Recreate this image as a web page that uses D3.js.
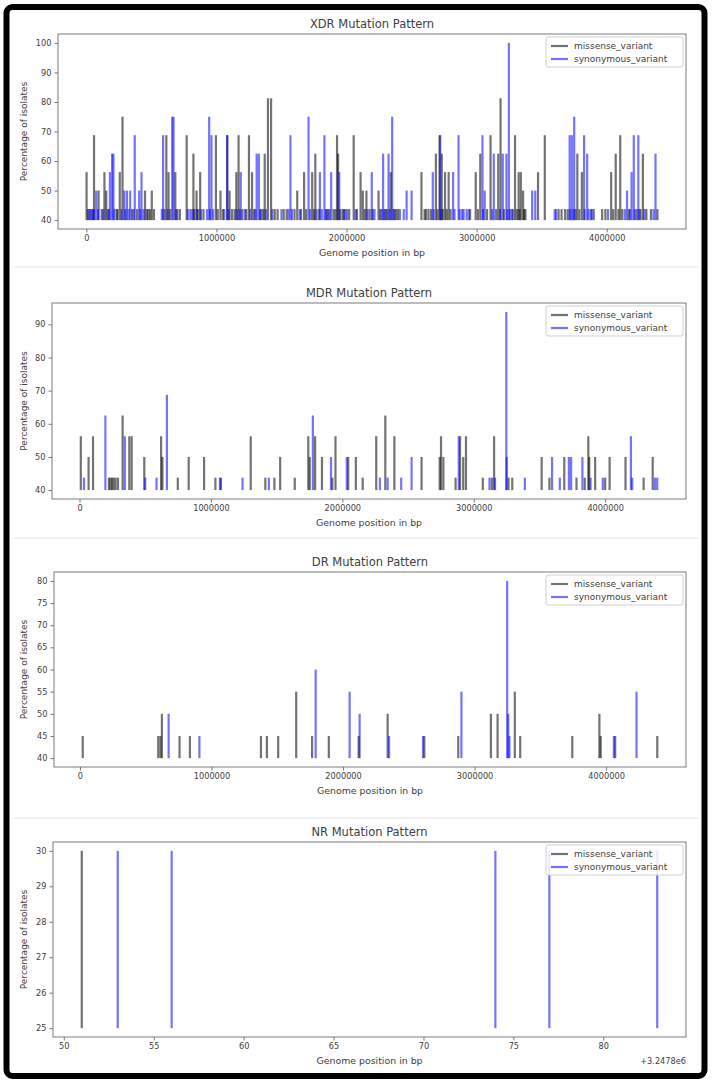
<!DOCTYPE html>
<html><head><meta charset="utf-8">
<script src="https://cdn.jsdelivr.net/npm/d3@7"></script>
<style>
body{margin:0;background:#fff}
svg{display:block}
text{font-family:"DejaVu Sans",sans-serif;fill:#404040}
</style>
</head><body>
<svg id="c" width="712" height="1084"></svg>
<script>
// ---------------- DATA (position in bp, percentage of isolates) ----------------
const xdrMissense = [
 [1500,56.25],[59000,68.75],[94000,50],[139000,56.25],[153000,50],[233000,43.75],[257000,56.25],[278000,75],
 [451000,50],[476000,43.75],[503000,50],[615000,68.75],[632000,56.25],[684000,56.25],[719000,43.75],[771000,68.75],
 [823000,62.5],[847000,50],[875000,56.25],[996000,68.75],[1031000,50],[1083000,68.75],[1101000,50],[1153000,56.25],
 [1170000,68.75],[1250000,68.75],[1274000,56.25],[1344000,43.75],[1371000,62.5],[1396000,81.25],[1420000,81.25],
 [1448000,43.75],[1517000,43.75],[1621000,50],[1674000,56.25],[1736000,56.25],[1760000,62.5],[1847000,43.75],
 [1927000,68.75],[1935000,62.5],[1969000,43.75],[2055000,68.75],[2108000,56.25],[2125000,50],[2153000,50],
 [2177000,43.75],[2246000,50],[2299000,43.75],[2340000,56.25],[2368000,43.75],[2396000,43.75],[2576000,56.25],
 [2611000,43.75],[2687000,62.5],[2715000,68.75],[2732000,62.5],[2757000,56.25],[2785000,56.25],[2993000,56.25],
 [3028000,62.5],[3107000,68.75],[3166000,62.5],[3184000,81.25],[3295000,68.75],[3323000,56.25],[3340000,56.25],
 [3357000,50],[3375000,43.75],[3472000,56.25],[3524000,68.75],[3653000,43.75],[3680000,43.75],[3774000,62.5],
 [3809000,56.25],[3965000,43.75],[4034000,56.25],[4069000,62.5],[4104000,68.75],[4278000,62.5],[4305000,43.75],
 [4390000,43.75],
 [12000,43.75],[48000,43.75],[118000,43.75],[165000,43.75],[240000,43.75],[300000,43.75],[350000,43.75],[390000,43.75],
 [465000,43.75],[490000,43.75],[520000,43.75],[600000,43.75],[645000,43.75],[700000,43.75],[830000,43.75],[860000,43.75],
 [900000,43.75],[1010000,43.75],[1050000,43.75],[1120000,43.75],[1140000,43.75],[1200000,43.75],[1230000,43.75],
 [1290000,43.75],[1360000,43.75],[1470000,43.75],[1540000,43.75],[1600000,43.75],[1650000,43.75],[1690000,43.75],
 [1750000,43.75],[1790000,43.75],[1860000,43.75],[1900000,43.75],[1915000,43.75],[1950000,43.75],[1980000,43.75],
 [2020000,43.75],[2080000,43.75],[2140000,43.75],[2200000,43.75],[2260000,43.75],[2310000,43.75],[2380000,43.75],
 [2600000,43.75],[2630000,43.75],[2650000,43.75],[2700000,43.75],[2740000,43.75],[2770000,43.75],[2800000,43.75],
 [2950000,43.75],[3010000,43.75],[3080000,43.75],[3150000,43.75],[3210000,43.75],[3270000,43.75],[3310000,43.75],
 [3330000,43.75],[3365000,43.75],[3630000,43.75],[3700000,43.75],[3760000,43.75],[3790000,43.75],[3900000,43.75],
 [3990000,43.75],[4050000,43.75],[4090000,43.75],[4120000,43.75],[4170000,43.75],[4230000,43.75],[4260000,43.75],
 [4340000,43.75]
];
const xdrSynonymous = [
 [24000,43.75],[42000,43.75],[76000,50],[181000,56.25],[198000,62.5],[208000,62.5],[292000,50],[312000,50],
 [337000,50],[372000,68.75],[406000,50],[424000,56.25],[590000,68.75],[660000,75],[670000,75],[799000,43.75],
 [927000,43.75],[944000,75],[962000,68.75],[1083000,68.75],[1187000,56.25],[1309000,62.5],[1326000,62.5],
 [1569000,68.75],[1708000,75],[1795000,56.25],[1830000,68.75],[1882000,56.25],[1944000,56.25],[2003000,43.75],
 [2194000,56.25],[2281000,62.5],[2323000,62.5],[2351000,75],[2462000,50],[2500000,50],[2663000,56.25],
 [2720000,68.75],[2819000,56.25],[2861000,68.75],[2889000,43.75],[2923000,43.75],[3045000,68.75],[3062000,50],
 [3132000,62.5],[3201000,62.5],[3229000,62.5],[3247856,100],[3427000,50],[3451000,50],[3611000,43.75],
 [3715000,68.75],[3732000,68.75],[3750000,75],[3826000,68.75],[3850000,62.5],[3878000,43.75],[4156000,50],
 [4191000,56.25],[4208000,68.75],[4243000,68.75],[4375000,62.5],
 [30000,43.75],[60000,43.75],[90000,43.75],[130000,43.75],[175000,43.75],[215000,43.75],[270000,43.75],[325000,43.75],
 [365000,43.75],[415000,43.75],[440000,43.75],[580000,43.75],[625000,43.75],[690000,43.75],[780000,43.75],[815000,43.75],
 [850000,43.75],[880000,43.75],[950000,43.75],[975000,43.75],[1060000,43.75],[1095000,43.75],[1160000,43.75],
 [1180000,43.75],[1220000,43.75],[1260000,43.75],[1300000,43.75],[1335000,43.75],[1380000,43.75],[1430000,43.75],
 [1500000,43.75],[1555000,43.75],[1580000,43.75],[1640000,43.75],[1720000,43.75],[1770000,43.75],[1810000,43.75],
 [1840000,43.75],[1870000,43.75],[1990000,43.75],[2070000,43.75],[2160000,43.75],[2215000,43.75],[2270000,43.75],
 [2290000,43.75],[2330000,43.75],[2360000,43.75],[2410000,43.75],[2440000,43.75],[2670000,43.75],[2725000,43.75],
 [2830000,43.75],[2870000,43.75],[2900000,43.75],[2940000,43.75],[3050000,43.75],[3120000,43.75],[3180000,43.75],
 [3235000,43.75],[3255000,43.75],[3280000,43.75],[3600000,43.75],[3720000,43.75],[3745000,43.75],[3830000,43.75],
 [3860000,43.75],[3885000,43.75],[4010000,43.75],[4140000,43.75],[4180000,43.75],[4215000,43.75],[4250000,43.75],
 [4290000,43.75],[4360000,43.75]
];

const mdrMissense = [
 [10000,56.25],[69000,50],[103000,56.25],[224000,43.75],[236000,43.75],[248000,43.75],[260000,43.75],[275000,43.75],
 [293000,43.75],[328000,62.5],[379000,56.25],[397000,56.25],[493000,50],[621000,56.25],[631000,50],[748000,43.75],
 [831000,50],[948000,50],[1034000,43.75],[1076000,43.75],[1303000,56.25],[1414000,43.75],[1483000,43.75],
 [1527000,50],[1638000,43.75],[1741000,56.25],[1752000,50],[1793000,56.25],[1845000,50],[1924000,43.75],
 [1948000,56.25],[2045000,50],[2103000,50],[2155000,43.75],[2258000,56.25],[2327000,62.5],[2396000,56.25],
 [2603000,50],[2741000,50],[2751000,56.25],[2769000,50],[2862000,43.75],[2896000,56.25],[2920000,50],[2941000,56.25],
 [3069000,43.75],[3138000,43.75],[3155000,56.25],[3265000,43.75],[3293000,43.75],[3517000,50],[3576000,43.75],
 [3689000,50],[3782000,43.75],[3845000,43.75],[3872000,56.25],[3879000,50],[3924000,50],[4000000,43.75],
 [4034000,50],[4155000,50],[4293000,43.75],[4362000,50]
];
const mdrSynonymous = [
 [34000,43.75],[197000,62.5],[345000,56.25],[500000,43.75],[586000,43.75],[665000,68.75],[1069000,43.75],
 [1241000,43.75],[1441000,43.75],[1776000,62.5],[1914000,50],[2034000,50],[2286000,43.75],[2345000,43.75],
 [2448000,43.75],[2527000,50],[2886000,56.25],[3120000,43.75],[3162000,43.75],[3247856,93.75],[3251000,50],
 [3389000,43.75],[3596000,50],[3655000,43.75],[3724000,50],[3741000,50],[3827000,50],[3889000,43.75],
 [3982000,43.75],[4196000,56.25],[4206000,43.75],[4379000,43.75],[4396000,43.75]
];

const drMissense = [
 [21000,45],[595000,45],[612000,45],[623000,50],[757000,45],[836000,45],[1376000,45],[1421000,45],[1507000,45],
 [1644000,55],[1765000,45],[1892000,45],[2119000,45],[2339000,50],[2618000,45],[2876000,45],[3124000,50],
 [3175000,50],[3306000,55],[3347000,45],[3743000,45],[3949000,50],[3959000,45],[4069000,45],[4389000,45]
];
const drSynonymous = [
 [674000,50],[908000,45],[1792000,60],[2050000,55],[2126000,50],[2350000,45],[2608000,45],[2900000,55],
 [3247856,80],[3256000,50],[3265000,45],[4059000,45],[4231000,55]
];

const nrMissense = [[3247851,30]];
const nrSynonymous = [[3247853,30],[3247856,30],[3247874,30],[3247877,30],[3247883,30]];

const genomeTicks = [0,1000000,2000000,3000000,4000000];
const nrXTicks = [3247850,3247855,3247860,3247865,3247870,3247875,3247880];
const xdrYTicks = [40,50,60,70,80,90,100];
const mdrYTicks = [40,50,60,70,80,90];
const drYTicks = [40,45,50,55,60,65,70,75,80];
const nrYTicks = [25,26,27,28,29,30];
const seriesNames = ["missense_variant","synonymous_variant"];

// ---------------- LAYOUT ----------------
const svg = d3.select("#c");
const panels = [
 {title:"XDR Mutation Pattern", mis:xdrMissense, syn:xdrSynonymous, base:40, yt:xdrYTicks, xt:genomeTicks, box:{l:58,t:34,r:686,b:229}},
 {title:"MDR Mutation Pattern", mis:mdrMissense, syn:mdrSynonymous, base:40, yt:mdrYTicks, xt:genomeTicks, box:{l:52,t:303,r:686,b:499}},
 {title:"DR Mutation Pattern",  mis:drMissense,  syn:drSynonymous,  base:40, yt:drYTicks,  xt:genomeTicks, box:{l:54,t:572,r:686,b:767}},
 {title:"NR Mutation Pattern",  mis:nrMissense,  syn:nrSynonymous,  base:25, yt:nrYTicks,  xt:nrXTicks, box:{l:53,t:842,r:686,b:1037}, offset:3247800}
];

// faint separators between composite panels
[267, 538, 818].forEach(y=>{
  svg.append("line").attr("x1",14).attr("x2",698).attr("y1",y).attr("y2",y)
    .attr("stroke","#f2f2f2").attr("stroke-width",2);
});

panels.forEach(p=>{
  const b = p.box;
  const all = p.mis.concat(p.syn);
  const [xmin,xmax] = d3.extent(all,d=>d[0]);
  const xpad = (xmax-xmin)*0.05;
  const ymax = d3.max(all,d=>d[1]);
  const ypad = (ymax-p.base)*0.05;
  const x = d3.scaleLinear().domain([xmin-xpad,xmax+xpad]).range([b.l,b.r]);
  const y = d3.scaleLinear().domain([p.base-ypad,ymax+ypad]).range([b.b,b.t]);
  const g = svg.append("g");

  // bars
  const drawSeries = (data,color)=>{
    g.append("g").selectAll("line").data(data).join("line")
      .attr("x1",d=>x(d[0])).attr("x2",d=>x(d[0]))
      .attr("y1",y(p.base)).attr("y2",d=>y(d[1]))
      .attr("stroke",color).attr("stroke-opacity",0.55).attr("stroke-width",2.2);
  };
  drawSeries(p.mis,"#000000");
  drawSeries(p.syn,"#0000ff");

  // axes
  const fmt = p.offset ? (v=>String(Math.round(v-p.offset))) : d3.format("d");
  const xa = g.append("g").attr("transform",`translate(0,${b.b})`)
    .call(d3.axisBottom(x).tickValues(p.xt).tickFormat(fmt).tickSize(3.5).tickPadding(3));
  const ya = g.append("g").attr("transform",`translate(${b.l},0)`)
    .call(d3.axisLeft(y).tickValues(p.yt).tickFormat(d3.format("d")).tickSize(3.5).tickPadding(3));
  [xa,ya].forEach(a=>{
    a.select(".domain").remove();
    a.selectAll("line").attr("stroke","#777");
    a.selectAll("text").attr("font-size",8.2).attr("fill","#404040").style("font-family","DejaVu Sans");
  });
  g.append("rect").attr("x",b.l).attr("y",b.t).attr("width",b.r-b.l).attr("height",b.b-b.t)
    .attr("fill","none").attr("stroke","#7a7a7a").attr("stroke-width",1);

  // title & labels
  g.append("text").attr("x",(b.l+b.r)/2).attr("y",b.t-6).attr("text-anchor","middle")
    .attr("font-size",11.5).text(p.title);
  g.append("text").attr("x",(b.l+b.r)/2).attr("y",b.b+27).attr("text-anchor","middle")
    .attr("font-size",9.4).text("Genome position in bp");
  g.append("text").attr("transform",`translate(27,${(b.t+b.b)/2}) rotate(-90)`).attr("text-anchor","middle")
    .attr("font-size",9).text("Percentage of isolates");
  if(p.offset){
    g.append("text").attr("x",b.r).attr("y",b.b+27).attr("text-anchor","end")
      .attr("font-size",8.2).text("+3.2478e6");
  }

  // legend
  const lw=137, lh=30, lx=b.r-3-lw, ly=b.t+3;
  const lg = g.append("g");
  lg.append("rect").attr("x",lx).attr("y",ly).attr("width",lw).attr("height",lh).attr("rx",2)
    .attr("fill","#fff").attr("fill-opacity",0.85).attr("stroke","#d0d0d0").attr("stroke-width",1);
  const lc = ["#000000","#0000ff"];
  seriesNames.forEach((n,i)=>{
    const yy = ly+9+i*13;
    lg.append("line").attr("x1",lx+5).attr("x2",lx+22).attr("y1",yy).attr("y2",yy)
      .attr("stroke",lc[i]).attr("stroke-opacity",0.55).attr("stroke-width",2.2);
    lg.append("text").attr("x",lx+28).attr("y",yy+3.2).attr("font-size",9).text(n);
  });
});

// outer thick frame
svg.append("rect").attr("x",6.5).attr("y",7).attr("width",698).attr("height",1069).attr("rx",6)
  .attr("fill","none").attr("stroke","#000").attr("stroke-width",6);
</script>
</body></html>
